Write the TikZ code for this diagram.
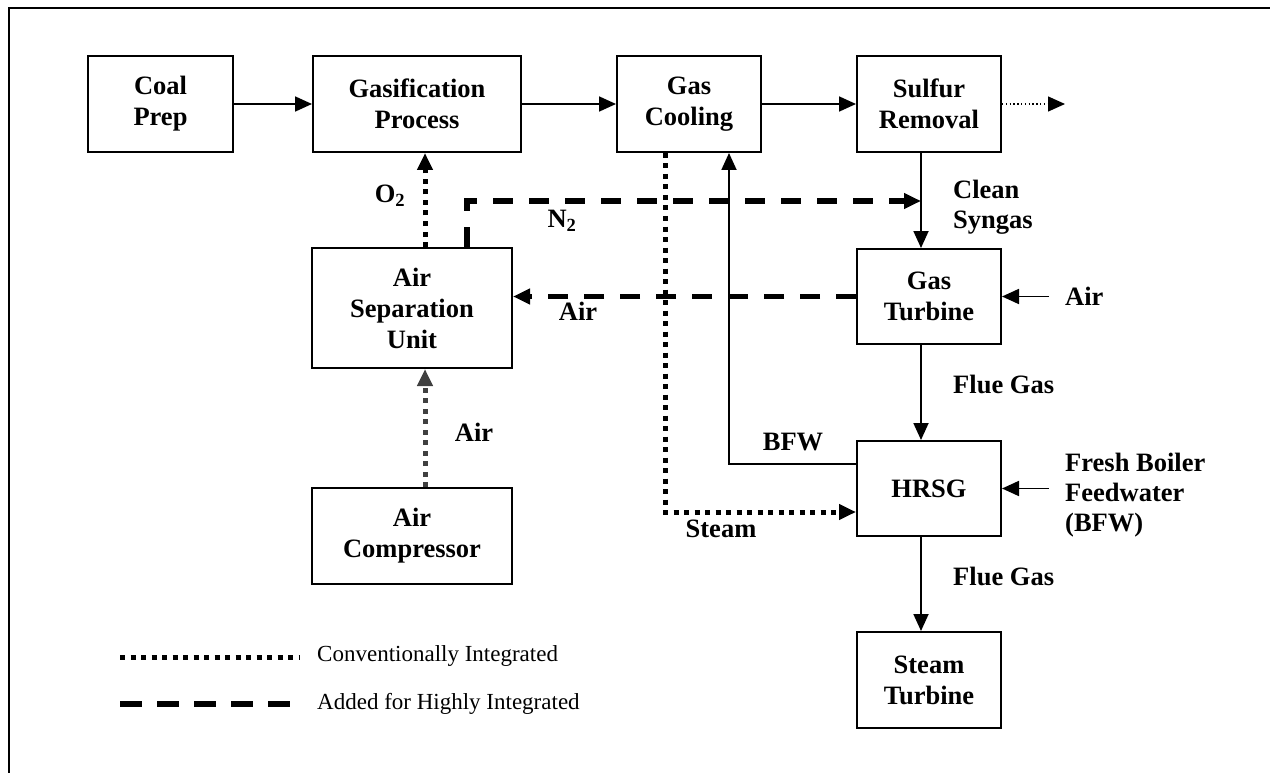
\documentclass[tikz,border=0pt]{standalone}
\usepackage{fontspec}
\setmainfont{Liberation Serif}
\usetikzlibrary{arrows.meta}
\begin{document}
\begin{tikzpicture}[x=1pt,y=-1pt,
  box/.style={draw,line width=2pt,align=center,inner sep=0pt,font=\bfseries\fontsize{26.5}{31}\selectfont},
  lbl/.style={font=\bfseries\fontsize{26.5}{30}\selectfont,inner sep=0pt,align=left},
  leg/.style={font=\fontsize{23}{27}\selectfont,inner sep=0pt,anchor=west},
  tip/.style={-{Triangle[length=17pt,width=15pt]}},
  flow/.style={tip,line width=1.8pt},
  conv/.style={tip,line width=5pt,dash pattern=on 5pt off 5.5pt},
  thinconv/.style={tip,line width=1.4pt,dash pattern=on 1.4pt off 2.4pt},
  high/.style={tip,line width=5.5pt,dash pattern=on 20pt off 16pt},
  frameline/.style={line width=2.2pt}]
\useasboundingbox (0,0) rectangle (1270,773);
\draw[frameline] (9,773) -- (9,8) -- (1270,8);

% boxes
\node[box,minimum width=145pt,minimum height=96pt] (coal) at (160.5,104) {Coal\\Prep};
\node[box,minimum width=208pt,minimum height=96pt] (gasif) at (417,104) {Gasification\\Process};
\node[box,minimum width=144pt,minimum height=96pt] (cool) at (689,104) {Gas\\Cooling};
\node[box,minimum width=144pt,minimum height=96pt] (sulf) at (929,104) {Sulfur\\Removal};
\node[box,minimum width=200pt,minimum height=120pt] (asu) at (412,308) {Air\\Separation\\Unit};
\node[box,minimum width=200pt,minimum height=96pt] (comp) at (412,536) {Air\\Compressor};
\node[box,minimum width=144pt,minimum height=95pt] (gt) at (929,296.5) {Gas\\Turbine};
\node[box,minimum width=144pt,minimum height=95pt] (hrsg) at (929,488.5) {HRSG};
\node[box,minimum width=144pt,minimum height=96pt] (st) at (929,680) {Steam\\Turbine};

% helper coordinates
\coordinate (xm) at (921,0);
\coordinate (xo) at (425,0);
\coordinate (xn) at (467,0);
\coordinate (n2end) at (921,201);
\coordinate (sout) at (1065,104);
\coordinate (airin) at (1049,296.5);
\coordinate (fbfw) at (1049,488.5);
\coordinate (bfwy) at (0,464);
\coordinate (bfwx) at (729,0);
\coordinate (stx) at (665,0);
\coordinate (sty) at (0,512);

% main flow
\draw[flow] (coal) -- (gasif);
\draw[flow] (gasif) -- (cool);
\draw[flow] (cool) -- (sulf);
\draw[thinconv] (sulf) -- (sout);
\draw[flow] (sulf.south -| xm) -- (gt.north -| xm);
\draw[flow] (gt.south -| xm) -- (hrsg.north -| xm);
\draw[flow] (hrsg.south -| xm) -- (st.north -| xm);
\draw[flow] (airin) -- (gt.east);
\draw[flow] (fbfw) -- (hrsg.east);
\draw[flow] (hrsg.west |- bfwy) -| (cool.south -| bfwx);

% conventional integration
\draw[conv] (asu.north -| xo) -- (gasif.south -| xo);
\draw[conv,black!75] (comp.north -| xo) -- (asu.south -| xo);
\draw[conv] (cool.south -| stx) |- (hrsg.west |- sty);

% highly integrated
\draw[high] (asu.north -| xn) |- (n2end);
\draw[high] (gt.west) -- (gt.west -| asu.east);

% labels
\node[lbl] (lo2) at (390,196) {O\textsubscript{2}};
\node[lbl] (ln2) at (562,221) {N\textsubscript{2}};
\node[lbl] (lair1) at (578,311) {Air};
\node[lbl,anchor=west] (lclean) at (953,207) {Clean\\Syngas};
\node[lbl,anchor=west] (lair2) at (1065,296) {Air};
\node[lbl,anchor=west] (lflue1) at (953,384) {Flue Gas};
\node[lbl] (lbfw) at (793,442) {BFW};
\node[lbl] (lsteam) at (721,529) {Steam};
\node[lbl,anchor=west] (lfresh) at (1065,495) {Fresh Boiler\\Feedwater\\(BFW)};
\node[lbl,anchor=west] (lflue2) at (953,576) {Flue Gas};
\node[lbl] (lair3) at (474,432) {Air};

% legend
\coordinate (lga) at (120,657);
\coordinate (lgb) at (300,657);
\coordinate (lgc) at (120,704);
\coordinate (lgd) at (298,704);
\draw[line width=5pt,dash pattern=on 5pt off 5.5pt] (lga) -- (lgb);
\draw[line width=5.5pt,dash pattern=on 22pt off 15pt] (lgc) -- (lgd);
\node[leg] (leg1) at (317,656) {Conventionally Integrated};
\node[leg] (leg2) at (317,704) {Added for Highly Integrated};
\end{tikzpicture}
\end{document}
